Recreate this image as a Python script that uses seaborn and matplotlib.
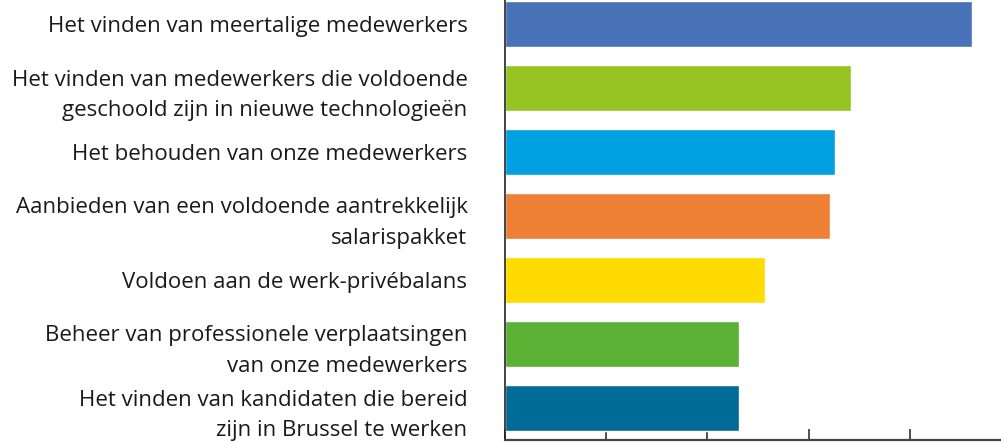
import pandas as pd
import numpy as np
import seaborn as sns
import matplotlib.pyplot as plt

labels = [
    "Het vinden van meertalige medewerkers",
    "Het vinden van medewerkers die voldoende\ngeschoold zijn in nieuwe technologieën",
    "Het behouden van onze medewerkers",
    "Aanbieden van een voldoende aantrekkelijk\nsalarispakket",
    "Voldoen aan de werk-privébalans",
    "Beheer van professionele verplaatsingen\nvan onze medewerkers",
    "Het vinden van kandidaten die bereid\nzijn in Brussel te werken",
]
values = [46.1, 34.2, 32.6, 32.1, 25.7, 23.1, 23.1]
colors = ["#4872B8", "#97C323", "#00A0E1", "#EE8036", "#FFDB00", "#5AB133", "#006B96"]

df = pd.DataFrame({"label": labels, "value": values})

sns.set_theme(style="white")
plt.rcParams['font.family'] = ['Open Sans', 'DejaVu Sans']

fig = plt.figure(figsize=(10.01, 4.43), dpi=100)
ax = fig.add_axes([505 / 1001, 3 / 443, 496 / 1001, 440 / 443])

sns.barplot(data=df, x="value", y="label", hue="label", palette=colors,
            legend=False, width=0.73, saturation=1, ax=ax)

ax.set_xlim(0, 49)
ax.set_ylim(6.5, -0.375)
ax.set_xticks([0, 10, 20, 30, 40])
ax.set_xticklabels([])
ax.tick_params(axis="x", direction="in", length=8, width=1.2, color="#333333", bottom=True)
ax.tick_params(axis="y", length=0, pad=27, labelsize=16, labelcolor="#1a1a1a")
for t in ax.get_yticklabels():
    t.set_horizontalalignment("right")
    t.set_linespacing(1.62)
ax.set_xlabel("")
ax.set_ylabel("")
for s in ["top", "right"]:
    ax.spines[s].set_visible(False)
ax.spines["left"].set_color("#222222")
ax.spines["left"].set_linewidth(1.2)
ax.spines["bottom"].set_color("#444444")
ax.spines["bottom"].set_linewidth(1.6)

fig.savefig("out.png", dpi=100)
